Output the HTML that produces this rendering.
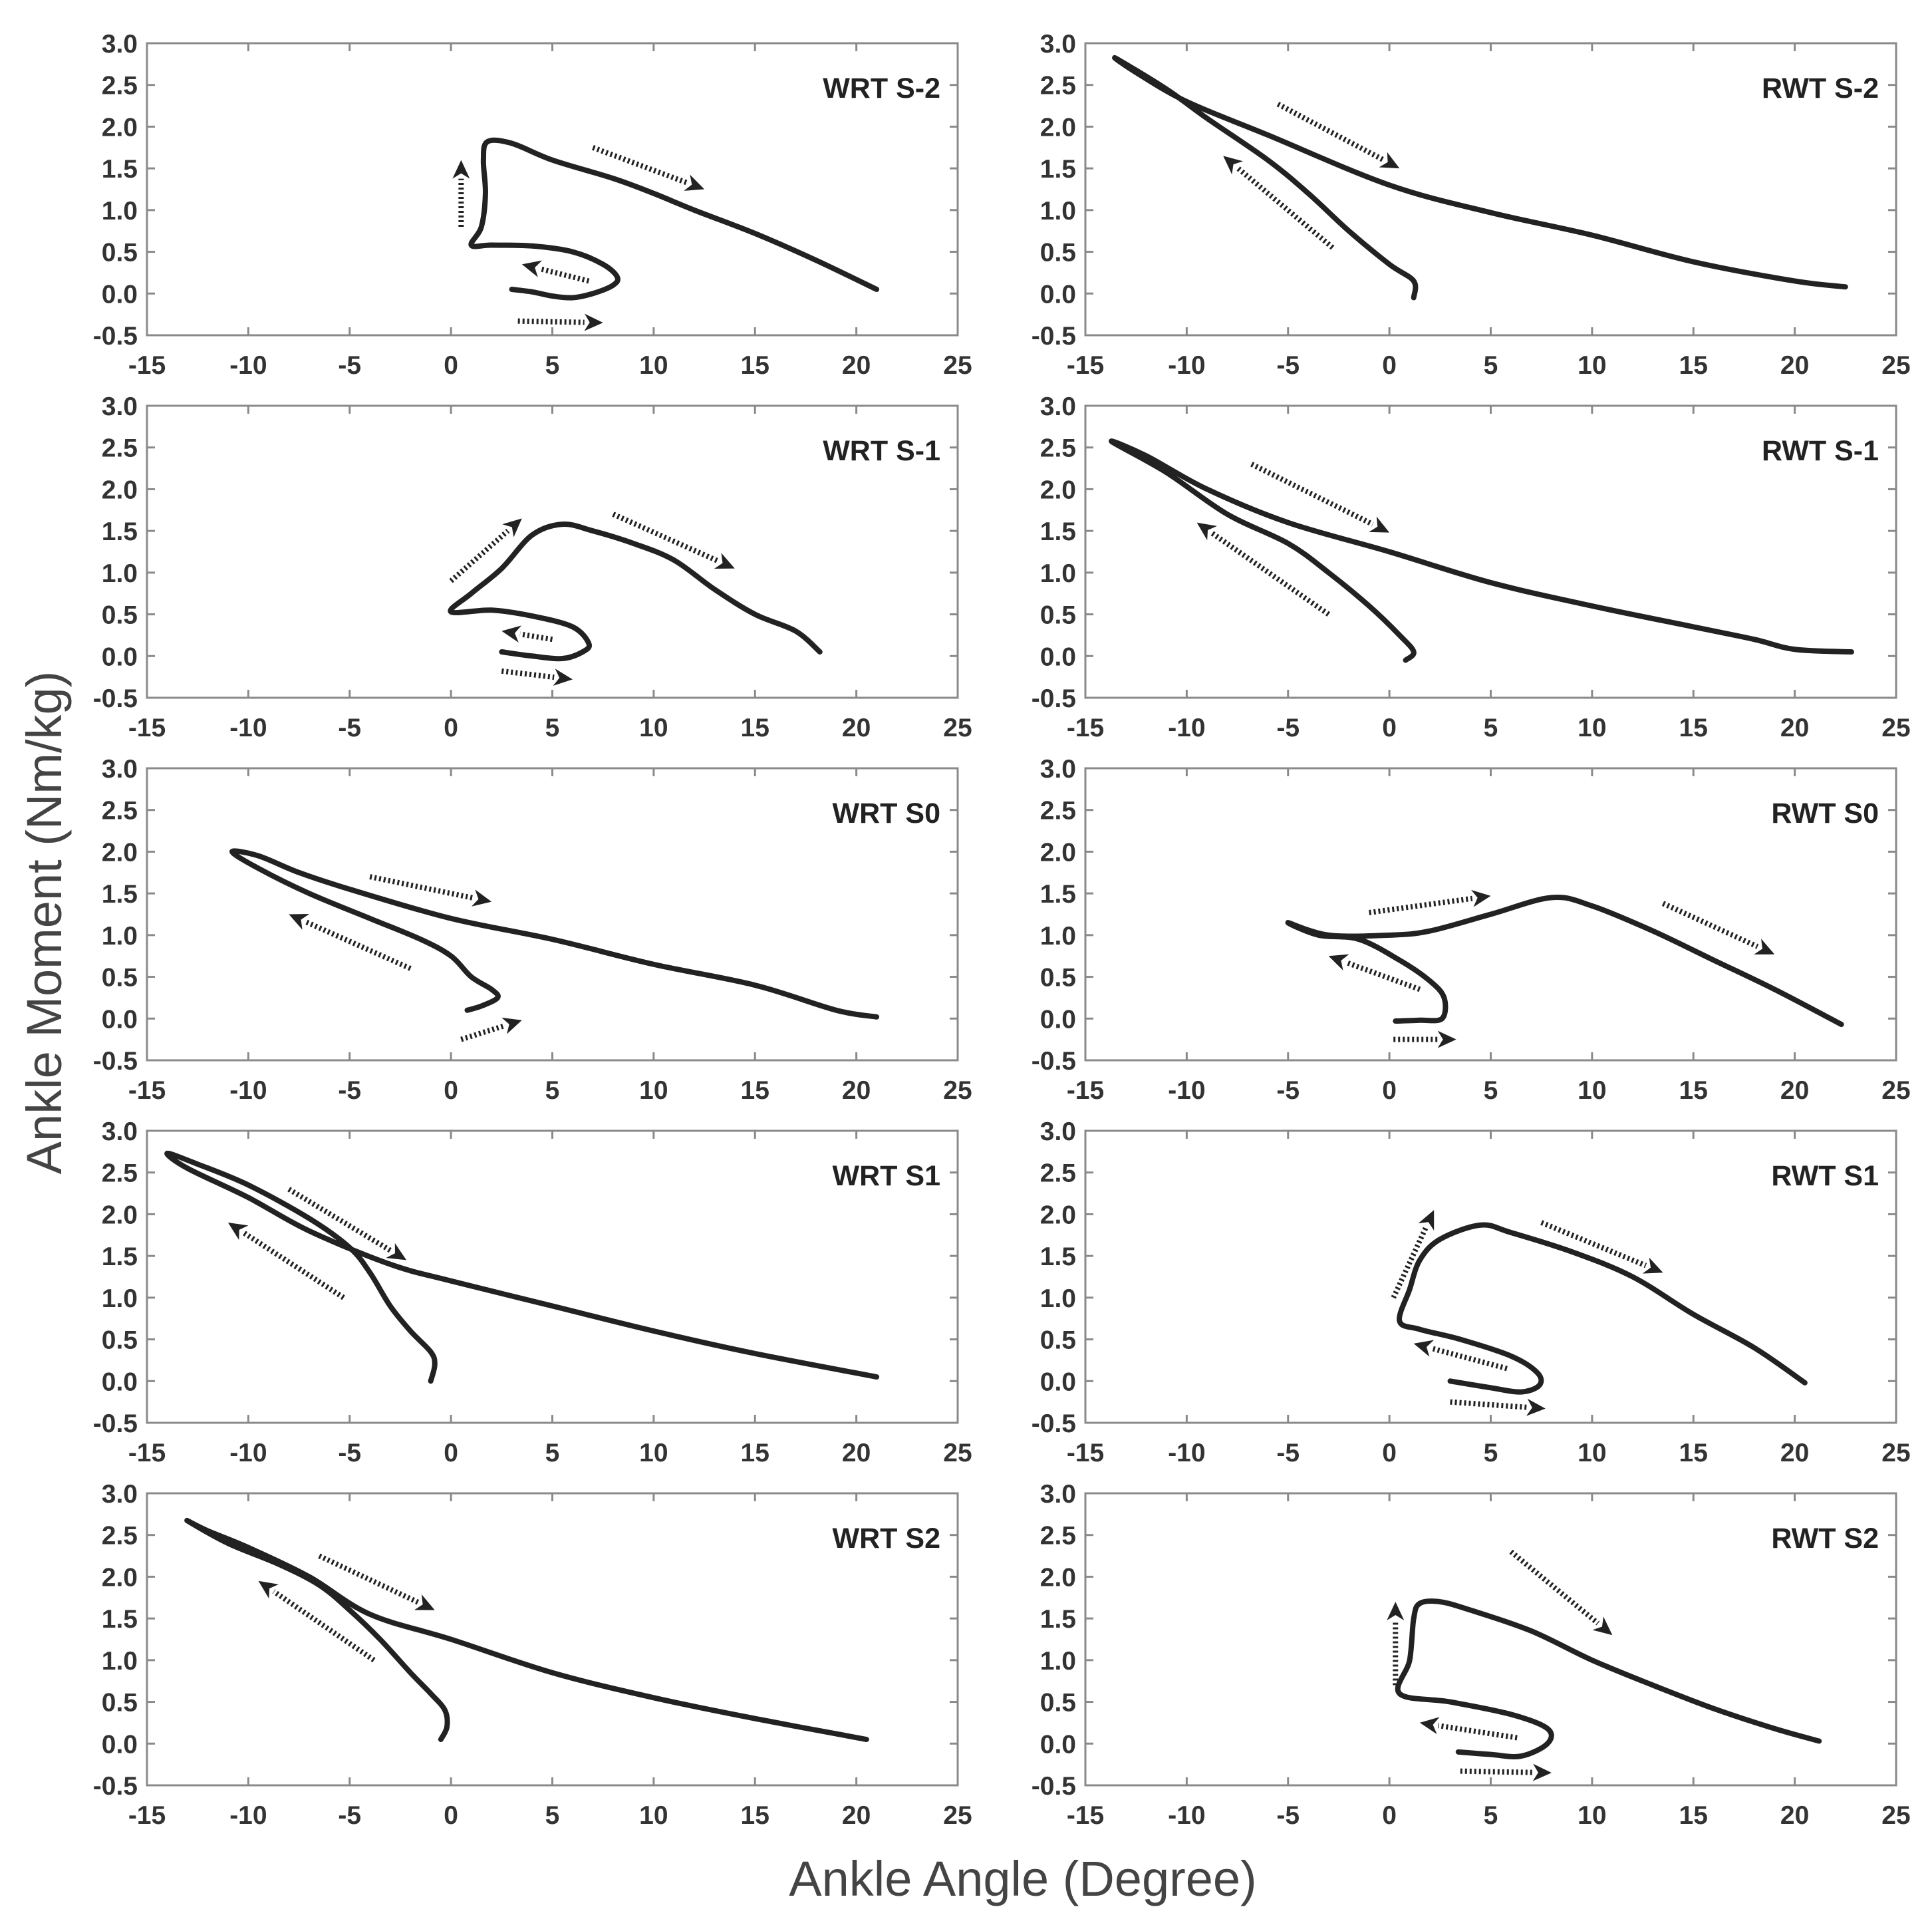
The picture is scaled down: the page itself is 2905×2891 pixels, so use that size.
<!DOCTYPE html>
<html><head><meta charset="utf-8"><style>
html,body{margin:0;padding:0;background:#fff;}
svg{display:block;}
</style></head><body>
<svg id="fig" width="2905" height="2891" viewBox="0 0 2905 2891" xmlns="http://www.w3.org/2000/svg">
<text x="0" y="0" transform="translate(92,1387) rotate(-90)" text-anchor="middle" font-family="Liberation Sans, sans-serif" font-size="74" fill="#444">Ankle Moment (Nm/kg)</text>
<text x="1538" y="2850" text-anchor="middle" font-family="Liberation Sans, sans-serif" font-size="74" fill="#444">Ankle Angle (Degree)</text>
</svg>
<script>
const xTicks=[-15,-10,-5,0,5,10,15,20,25];
const yTicks=[-0.5,0,0.5,1.0,1.5,2.0,2.5,3.0];
const panelNames=["WRT S-2","RWT S-2","WRT S-1","RWT S-1","WRT S0","RWT S0","WRT S1","RWT S1","WRT S2","RWT S2"];
const curveX=[
[3,4,5,6,7,8,8.2,7.5,6,4,2,1,1.5,1.7,1.6,1.8,3,5,8,10,12,15,18,21],
[1.2,1.2,0,-2,-4,-6,-9,-11,-13.5,-12.5,-10,-6,0,5,10,15,20,22.5],
[2.5,4,5.5,6.5,6.8,6,4,2,0,1,2.5,4,5.5,7,9,11,13,15,17,18.2],
[0.8,1.2,0.5,-1,-3,-5,-8,-11,-13.7,-12,-9,-5,0,5,10,15,18,20,22.8],
[0.8,1.5,2.3,2,1,0,-1.5,-4,-7,-9.5,-10.8,-9.5,-7.5,-5,0,5,10,15,19,21],
[0.3,1.5,2.6,2.7,2,0.5,-1.5,-3.5,-5,-3,0,2,5,8,10,13,16,19,22.3],
[-1,-0.8,-1,-2,-3,-4,-5,-7,-10,-12.5,-14,-13,-10,-7,-3,0,5,10,15,21],
[3,5,6.5,7.4,7.3,6,3.5,1.5,0.5,1,1.5,2.5,4.5,6,9,12,15,18,20.5],
[-0.5,-0.2,-0.3,-1,-2,-3.5,-5,-6.5,-8.5,-11,-13,-12,-10,-7,-4,0,5,10,15,20.5],
[3.4,5,6.5,7.8,7.8,6,3,0.5,1,1.2,1.5,2.5,4,7,10,13,16,19,21.2]
];
const curveY=[
[0.05,0.02,-0.03,-0.05,0,0.1,0.2,0.35,0.5,0.57,0.58,0.58,0.8,1.2,1.6,1.82,1.8,1.6,1.38,1.2,1.0,0.72,0.4,0.05],
[-0.05,0.15,0.35,0.75,1.2,1.6,2.1,2.45,2.82,2.65,2.3,1.9,1.3,0.97,0.7,0.38,0.15,0.08],
[0.05,0.0,-0.03,0.05,0.15,0.35,0.48,0.55,0.53,0.75,1.05,1.45,1.58,1.5,1.35,1.15,0.8,0.5,0.3,0.05],
[-0.05,0.05,0.25,0.6,1.0,1.35,1.7,2.2,2.57,2.4,2.0,1.6,1.25,0.88,0.6,0.35,0.2,0.08,0.05],
[0.1,0.15,0.25,0.35,0.5,0.75,0.95,1.2,1.5,1.8,2.0,1.95,1.75,1.55,1.2,0.95,0.65,0.4,0.1,0.02],
[-0.03,-0.02,0,0.25,0.45,0.7,0.95,1.0,1.15,1.0,1.0,1.05,1.25,1.45,1.35,1.05,0.7,0.35,-0.07],
[0,0.2,0.35,0.6,0.9,1.3,1.6,1.95,2.35,2.6,2.73,2.55,2.2,1.8,1.4,1.2,0.9,0.6,0.33,0.05],
[0,-0.08,-0.13,-0.05,0.1,0.3,0.5,0.62,0.72,1.1,1.45,1.7,1.87,1.78,1.55,1.25,0.8,0.4,-0.02],
[0.05,0.2,0.4,0.6,0.85,1.25,1.6,1.9,2.15,2.4,2.67,2.55,2.35,2.0,1.55,1.25,0.85,0.55,0.3,0.05],
[-0.1,-0.13,-0.15,0,0.18,0.35,0.5,0.6,1.0,1.5,1.68,1.7,1.6,1.35,1.0,0.7,0.42,0.18,0.03]
];
// arrows: [x1,y1,x2,y2] per panel
const arrowsData=[
[[0.5,0.8,0.5,1.6],[7,1.75,12.5,1.25],[6.8,0.15,3.5,0.35],[3.3,-0.33,7.5,-0.35]],
[[-5.5,2.27,0.5,1.5],[-2.8,0.55,-8.2,1.65]],
[[0,0.9,3.5,1.65],[8,1.7,14,1.05],[5,0.2,2.5,0.3],[2.5,-0.18,6,-0.28]],
[[-6.8,2.3,0,1.48],[-3,0.5,-9.5,1.6]],
[[-4,1.7,2,1.4],[-2,0.6,-8,1.25],[0.5,-0.25,3.5,-0.02]],
[[-1,1.27,5,1.47],[1.5,0.35,-3,0.75],[0.2,-0.25,3.3,-0.25],[13.5,1.38,19,0.77]],
[[-8,2.3,-2.2,1.45],[-5.3,1.0,-11,1.9]],
[[0.2,1.0,2.2,2.05],[7.5,1.9,13.5,1.3],[5.8,0.15,1.2,0.45],[3,-0.25,7.7,-0.33]],
[[-6.5,2.25,-0.8,1.6],[-3.8,1.0,-9.5,1.95]],
[[0.3,0.7,0.3,1.7],[6,2.3,11,1.3],[6.3,0.07,1.5,0.25],[3.5,-0.33,8,-0.35]]
];
const NS="http://www.w3.org/2000/svg";
const svg=document.getElementById('fig');
const boxLeft=[221,1632], boxW=1219, boxH=439, rowTop=65, rowStep=545;
const FONT="Liberation Sans, sans-serif";
function mk(tag,attrs,parent){const e=document.createElementNS(NS,tag);for(const k in attrs)e.setAttribute(k,attrs[k]);(parent||svg).appendChild(e);return e;}
function smooth(pts){
  let d=`M${pts[0][0]},${pts[0][1]}`;
  for(let i=0;i<pts.length-1;i++){
    const p0=pts[Math.max(0,i-1)],p1=pts[i],p2=pts[i+1],p3=pts[Math.min(pts.length-1,i+2)];
    const c1=[p1[0]+(p2[0]-p0[0])/6,p1[1]+(p2[1]-p0[1])/6];
    const c2=[p2[0]-(p3[0]-p1[0])/6,p2[1]-(p3[1]-p1[1])/6];
    d+=` C${c1[0]},${c1[1]} ${c2[0]},${c2[1]} ${p2[0]},${p2[1]}`;
  }
  return d;
}
for(let p=0;p<10;p++){
  const col=p%2,row=Math.floor(p/2);
  const L=boxLeft[col],T=rowTop+row*rowStep;
  const sx=v=>L+(v+15)/40*boxW;
  const sy=v=>T+(3-v)/3.5*boxH;
  const g=mk('g',{});
  
  
  const box=mk('rect',{x:L,y:T,width:boxW,height:boxH,fill:'none',stroke:'#8a8a8a','stroke-width':3},g);
  
  
  xTicks.forEach(t=>{
    const x=sx(t);
    mk('line',{x1:x,y1:T+boxH,x2:x,y2:T+boxH-12,stroke:'#8a8a8a','stroke-width':3},g);
    mk('line',{x1:x,y1:T,x2:x,y2:T+12,stroke:'#8a8a8a','stroke-width':3},g);
    const tx=mk('text',{x:x,y:T+boxH+58,'text-anchor':'middle','font-family':FONT,'font-size':39,'font-weight':'bold',fill:'#333'},g);
    tx.textContent=String(t);
    
    
  });
  yTicks.forEach(t=>{
    const y=sy(t);
    mk('line',{x1:L,y1:y,x2:L+12,y2:y,stroke:'#8a8a8a','stroke-width':3},g);
    mk('line',{x1:L+boxW,y1:y,x2:L+boxW-12,y2:y,stroke:'#8a8a8a','stroke-width':3},g);
    const ty=mk('text',{x:L-14,y:y+14,'text-anchor':'end','font-family':FONT,'font-size':39,'font-weight':'bold',fill:'#333'},g);
    ty.textContent=t.toFixed(1);
    
    
  });
  const lbl=mk('text',{x:L+boxW-26,y:T+82,'text-anchor':'end','font-family':FONT,'font-size':43,'font-weight':'bold',fill:'#222'},g);
  lbl.textContent=panelNames[p];
  
  
  const pts=curveX[p].map((v,i)=>[sx(v),sy(curveY[p][i])]);
  const path=mk('path',{d:smooth(pts),fill:'none',stroke:'#222','stroke-width':8,'stroke-linecap':'round','stroke-linejoin':'round'},g);
  
  
  arrowsData[p].forEach(a=>{
    const x1=sx(a[0]),y1=sy(a[1]),x2=sx(a[2]),y2=sy(a[3]);
    const dx=x2-x1,dy=y2-y1,len=Math.hypot(dx,dy),ux=dx/len,uy=dy/len;
    const hl=28,hw=13;
    const bx=x2-ux*hl,by=y2-uy*hl;
    const ag=mk('g',{},g);
    
    
    mk('line',{x1:x1,y1:y1,x2:bx,y2:by,stroke:'#222','stroke-width':8,'stroke-dasharray':'3 4'},ag);
    mk('polygon',{points:`${x2},${y2} ${bx-uy*hw},${by+ux*hw} ${bx+ux*8},${by+uy*8} ${bx+uy*hw},${by-ux*hw}`,fill:'#222'},ag);
  });
}
</script>
</body></html>
